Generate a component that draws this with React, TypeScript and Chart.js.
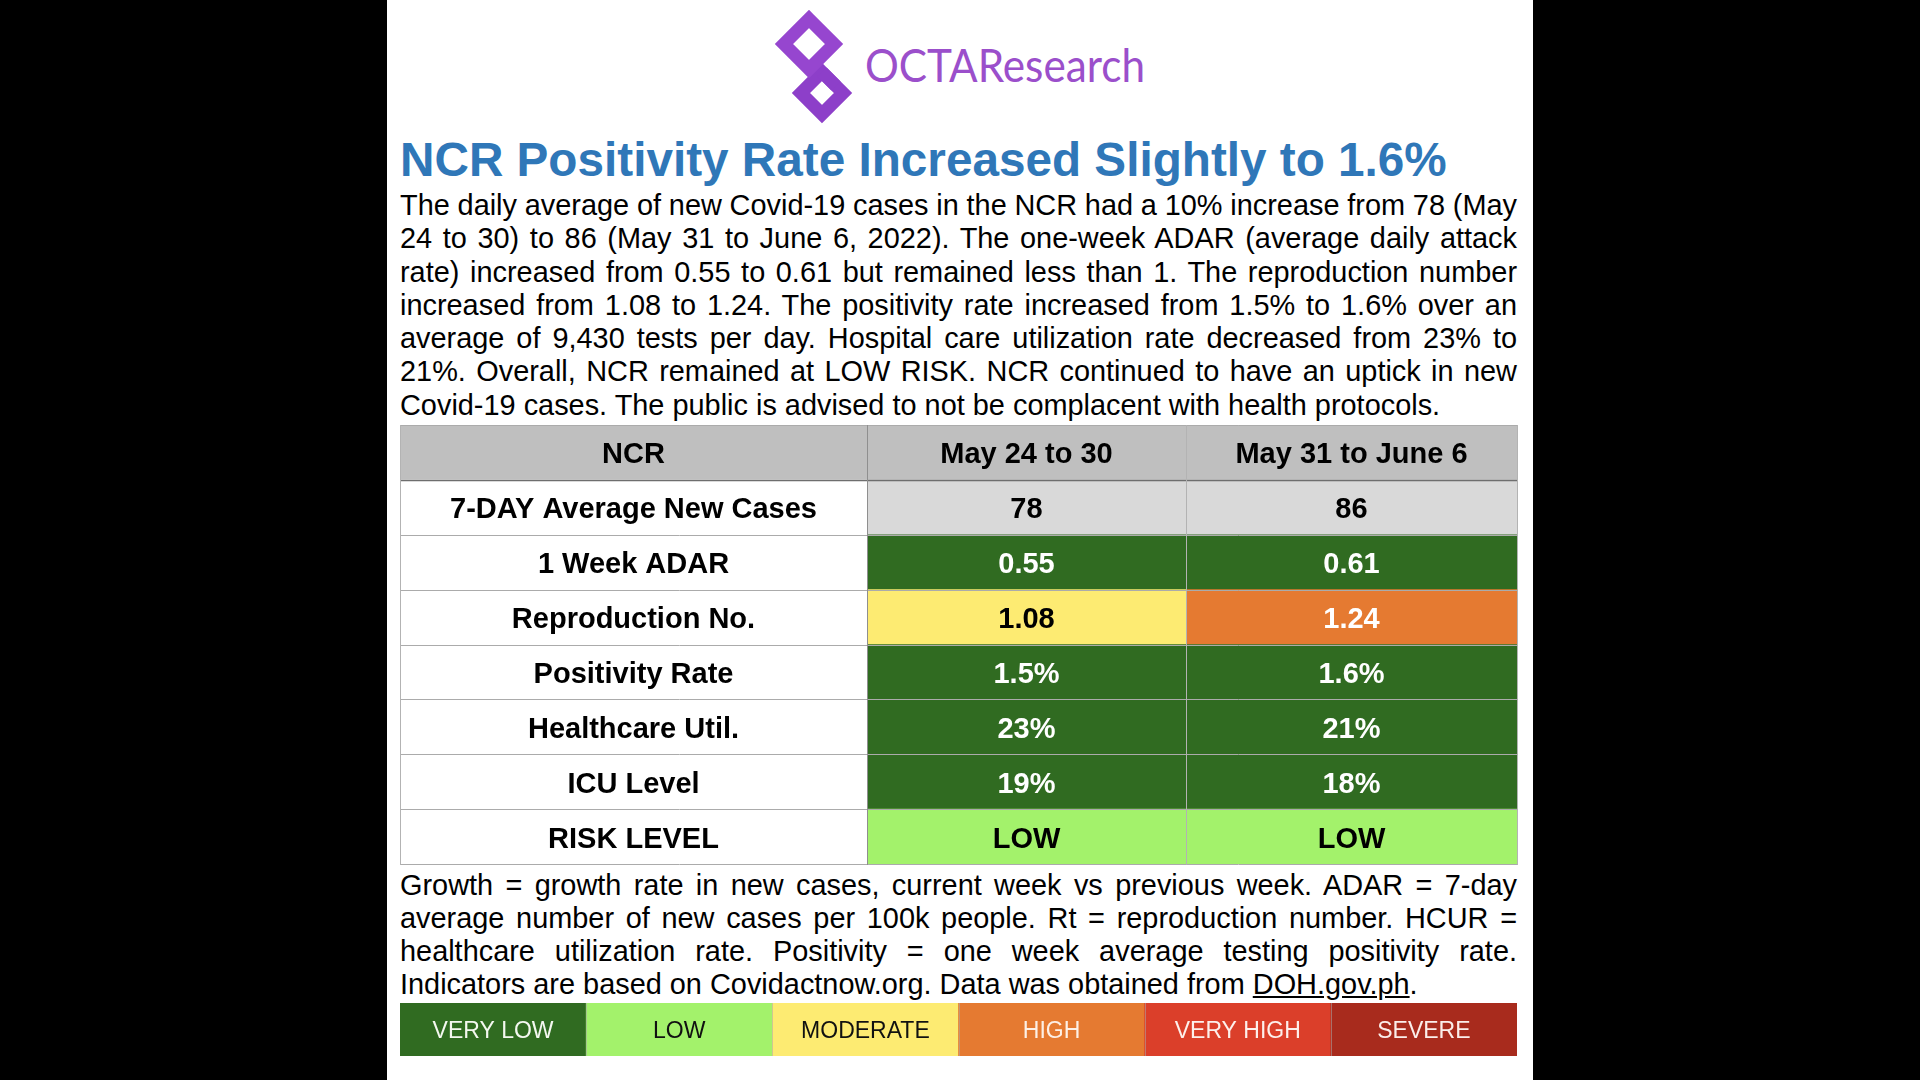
import React, { useEffect, useRef } from "react";
import { Chart, registerables } from "chart.js";

Chart.register(...registerables);

// ---------------- data ----------------
const titleText = "NCR Positivity Rate Increased Slightly to 1.6%";
const introLines = [
  "The daily average of new Covid-19 cases in the NCR had a 10% increase from 78 (May",
  "24 to 30) to 86 (May 31 to June 6, 2022). The one-week ADAR (average daily attack",
  "rate) increased from 0.55 to 0.61 but remained less than 1. The reproduction number",
  "increased from 1.08 to 1.24. The positivity rate increased from 1.5% to 1.6% over an",
  "average of 9,430 tests per day. Hospital care utilization rate decreased from 23% to",
  "21%. Overall, NCR remained at LOW RISK. NCR continued to have an uptick in new",
  "Covid-19 cases. The public is advised to not be complacent with health protocols.",
];
const noteLines = [
  "Growth = growth rate in new cases, current week vs previous week. ADAR = 7-day",
  "average number of new cases per 100k people. Rt = reproduction number. HCUR =",
  "healthcare utilization rate. Positivity = one week average testing positivity rate.",
];
const noteLastPrefix = "Indicators are based on Covidactnow.org. Data was obtained from ";
const noteLink = "DOH.gov.ph";

const headerLabels = ["NCR", "May 24 to 30", "May 31 to June 6"];
const indicators = [
  "7-DAY Average New Cases",
  "1 Week ADAR",
  "Reproduction No.",
  "Positivity Rate",
  "Healthcare Util.",
  "ICU Level",
  "RISK LEVEL",
];
const week1Values = ["78", "0.55", "1.08", "1.5%", "23%", "19%", "LOW"];
const week2Values = ["86", "0.61", "1.24", "1.6%", "21%", "18%", "LOW"];
const week1Levels = ["NONE", "VERY LOW", "MODERATE", "VERY LOW", "VERY LOW", "VERY LOW", "LOW"];
const week2Levels = ["NONE", "VERY LOW", "HIGH", "VERY LOW", "VERY LOW", "VERY LOW", "LOW"];
const riskLevels = ["VERY LOW", "LOW", "MODERATE", "HIGH", "VERY HIGH", "SEVERE"];

// ---------------- styles / layout ----------------
const LEVEL_FILL: Record<string, string> = {
  "VERY LOW": "#306b21",
  LOW: "#a3f26b",
  MODERATE: "#fdeb72",
  HIGH: "#e57a31",
  "VERY HIGH": "#db3f2a",
  SEVERE: "#a82b1d",
  NONE: "#d9d9d9",
};
const LEVEL_TEXT: Record<string, string> = {
  "VERY LOW": "#ffffff",
  LOW: "#000000",
  MODERATE: "#000000",
  HIGH: "#ffffff",
  "VERY HIGH": "#ffffff",
  SEVERE: "#ffffff",
  NONE: "#000000",
};
const LEGEND_TEXT: Record<string, string> = {
  "VERY LOW": "#f4f8f0",
  LOW: "#111111",
  MODERATE: "#111111",
  HIGH: "#fdf0e6",
  "VERY HIGH": "#fdf0ec",
  SEVERE: "#fbeeea",
};
const HEADER_FILL = "#bfbfbf";
const COL_EDGES = [0, 467, 786, 1117];
const FONT = '"Liberation Sans", Arial, Helvetica, sans-serif';

// ---------------- table chart ----------------
const tablePlugin = {
  id: "tableGridText",
  afterDatasetsDraw(chart: any) {
    const ctx = chart.ctx;
    const xs = chart.scales.x;
    const metas = chart.data.datasets.map((_: any, i: number) => chart.getDatasetMeta(i));
    const els = metas[0].data;
    ctx.save();
    const bounds: number[] = [];
    els.forEach((el: any, i: number) => {
      if (i === 0) bounds.push(el.y - el.height / 2);
      bounds.push(el.y + el.height / 2);
    });
    const left = xs.getPixelForValue(COL_EDGES[0]);
    const right = xs.getPixelForValue(COL_EDGES[COL_EDGES.length - 1]);
    bounds.forEach((b, i) => {
      const yy = Math.round(b) + 0.5;
      ctx.beginPath();
      ctx.strokeStyle = i === 1 ? "#6e6e6e" : "#ababab";
      ctx.lineWidth = i === 1 ? 1.5 : 1;
      ctx.moveTo(left, yy);
      ctx.lineTo(right + 1, yy);
      ctx.stroke();
    });
    COL_EDGES.forEach((edge, i) => {
      const xx = Math.round(xs.getPixelForValue(edge)) + 0.5;
      ctx.beginPath();
      ctx.strokeStyle = i === 1 ? "#8f8f8f" : "#b3b3b3";
      ctx.lineWidth = 1;
      ctx.moveTo(xx, bounds[0]);
      ctx.lineTo(xx, bounds[bounds.length - 1] + 1);
      ctx.stroke();
    });
    ctx.font = `bold 29px ${FONT}`;
    ctx.textAlign = "center";
    ctx.textBaseline = "middle";
    metas.forEach((meta: any, di: number) => {
      const ds = chart.data.datasets[di];
      meta.data.forEach((el: any, i: number) => {
        ctx.fillStyle = ds.cellTextColor[i];
        ctx.fillText(ds.cellText[i], (el.x + el.base) / 2, el.y + 3);
      });
    });
    ctx.restore();
  },
};

function TableChart() {
  const ref = useRef<HTMLCanvasElement>(null);
  useEffect(() => {
    const rows = ["header", ...indicators];
    const mk = (c: number, fills: string[], texts: string[], colors: string[]) => ({
      data: rows.map(() => [COL_EDGES[c], COL_EDGES[c + 1]]),
      backgroundColor: fills,
      cellText: texts,
      cellTextColor: colors,
      grouped: false,
      barPercentage: 1,
      categoryPercentage: 1,
      borderWidth: 0,
      borderSkipped: false,
    });
    const ds0 = mk(
      0,
      rows.map((_, i) => (i === 0 ? HEADER_FILL : "#ffffff")),
      [headerLabels[0], ...indicators],
      rows.map(() => "#000000")
    );
    const ds1 = mk(
      1,
      [HEADER_FILL, ...week1Levels.map((l) => LEVEL_FILL[l])],
      [headerLabels[1], ...week1Values],
      ["#000000", ...week1Levels.map((l) => LEVEL_TEXT[l])]
    );
    const ds2 = mk(
      2,
      [HEADER_FILL, ...week2Levels.map((l) => LEVEL_FILL[l])],
      [headerLabels[2], ...week2Values],
      ["#000000", ...week2Levels.map((l) => LEVEL_TEXT[l])]
    );
    const chart = new Chart(ref.current as HTMLCanvasElement, {
      type: "bar",
      data: { labels: rows, datasets: [ds0, ds1, ds2] as any },
      options: {
        indexAxis: "y",
        responsive: false,
        maintainAspectRatio: false,
        animation: false,
        layout: { padding: { right: 1, bottom: 1, left: 0, top: 0 } },
        plugins: { legend: { display: false }, tooltip: { enabled: false } },
        scales: {
          x: { type: "linear", min: COL_EDGES[0], max: COL_EDGES[COL_EDGES.length - 1], display: false },
          y: { type: "category", display: false, offset: true },
        },
      } as any,
      plugins: [tablePlugin],
    });
    return () => chart.destroy();
  }, []);
  return (
    <div style={{ position: "absolute", left: 400, top: 425, width: 1118, height: 440 }}>
      <canvas ref={ref} width={1118} height={440} />
    </div>
  );
}

// ---------------- legend chart ----------------
const legendPlugin = {
  id: "legendText",
  afterDatasetsDraw(chart: any) {
    const ctx = chart.ctx;
    const meta = chart.getDatasetMeta(0);
    ctx.save();
    ctx.font = `23px ${FONT}`;
    ctx.textAlign = "center";
    ctx.textBaseline = "middle";
    meta.data.forEach((el: any, i: number) => {
      const lvl = chart.data.labels[i];
      const top = Math.min(el.y, el.base);
      const bot = Math.max(el.y, el.base);
      if (i > 0) {
        const xx = Math.round(el.x - el.width / 2) + 0.5;
        ctx.beginPath();
        ctx.strokeStyle = "rgba(170,170,170,0.55)";
        ctx.lineWidth = 1;
        ctx.moveTo(xx, top);
        ctx.lineTo(xx, bot);
        ctx.stroke();
      }
      ctx.fillStyle = LEGEND_TEXT[lvl];
      ctx.fillText(lvl, el.x, (top + bot) / 2 + 2);
    });
    ctx.restore();
  },
};

function LegendChart() {
  const ref = useRef<HTMLCanvasElement>(null);
  useEffect(() => {
    const chart = new Chart(ref.current as HTMLCanvasElement, {
      type: "bar",
      data: {
        labels: riskLevels,
        datasets: [
          {
            data: riskLevels.map(() => 1),
            backgroundColor: riskLevels.map((l) => LEVEL_FILL[l]),
            barPercentage: 1,
            categoryPercentage: 1,
            borderWidth: 0,
          },
        ],
      },
      options: {
        responsive: false,
        maintainAspectRatio: false,
        animation: false,
        layout: { padding: 0 },
        plugins: { legend: { display: false }, tooltip: { enabled: false } },
        scales: {
          x: { type: "category", display: false, offset: true },
          y: { type: "linear", min: 0, max: 1, display: false },
        },
      } as any,
      plugins: [legendPlugin],
    });
    return () => chart.destroy();
  }, []);
  return (
    <div style={{ position: "absolute", left: 400, top: 1003, width: 1117, height: 53 }}>
      <canvas ref={ref} width={1117} height={53} />
    </div>
  );
}

// ---------------- page ----------------
function JLine({ children, last }: { children: any; last?: boolean }) {
  return (
    <div
      style={{
        textAlign: last ? "left" : "justify",
        textAlignLast: last ? "left" : "justify",
        wordSpacing: last ? "0px" : "-1.5px",
        whiteSpace: "nowrap",
      } as any}
    >
      {children}
    </div>
  );
}

function Logo() {
  const d = (cx: number, cy: number, h: number) =>
    `M ${cx} ${cy - h} L ${cx + h} ${cy} L ${cx} ${cy + h} L ${cx - h} ${cy} Z`;
  return (
    <svg
      width={1920}
      height={140}
      style={{ position: "absolute", left: 0, top: 0 }}
      viewBox="0 0 1920 140"
    >
      <path d={d(822, 93, 21)} fill="none" stroke="#8d3fc9" strokeWidth={13} strokeLinejoin="miter" />
      <path d={d(809, 44, 25)} fill="none" stroke="#9646cf" strokeWidth={13} strokeLinejoin="miter" />
      <path d={`M 822 72 L 836 86`} fill="none" stroke="#8d3fc9" strokeWidth={13} />
      <text
        x={865}
        y={82}
        fontSize={47}
        fill="#9b4fcb"
        fontFamily="Lato, 'Open Sans', sans-serif"
        textLength={280}
        lengthAdjust="spacingAndGlyphs"
      >
        OCTAResearch
      </text>
    </svg>
  );
}

export default function App() {
  return (
    <div
      style={{
        position: "fixed",
        left: 0,
        top: 0,
        width: 1920,
        height: 1080,
        background: "#000",
        overflow: "hidden",
        fontFamily: FONT,
        color: "#000",
      }}
    >
      <div style={{ position: "absolute", left: 387, top: 0, width: 1146, height: 1080, background: "#fff" }} />
      <Logo />
      <div
        style={{
          position: "absolute",
          left: 400,
          top: 132,
          fontSize: 47.7,
          fontWeight: 700,
          color: "#2f77b8",
          lineHeight: "56px",
          whiteSpace: "nowrap",
        }}
      >
        {titleText}
      </div>
      <div style={{ position: "absolute", left: 400, top: 189, width: 1117, fontSize: 28.9, lineHeight: "33.3px" }}>
        {introLines.map((l, i) => (
          <JLine key={i} last={i === introLines.length - 1}>
            {l}
          </JLine>
        ))}
      </div>
      <TableChart />
      <div style={{ position: "absolute", left: 400, top: 868.5, width: 1117, fontSize: 28.9, lineHeight: "33px" }}>
        {noteLines.map((l, i) => (
          <JLine key={i}>{l}</JLine>
        ))}
        <JLine last>
          {noteLastPrefix}
          <span style={{ textDecoration: "underline" }}>{noteLink}</span>.
        </JLine>
      </div>
      <LegendChart />
    </div>
  );
}
